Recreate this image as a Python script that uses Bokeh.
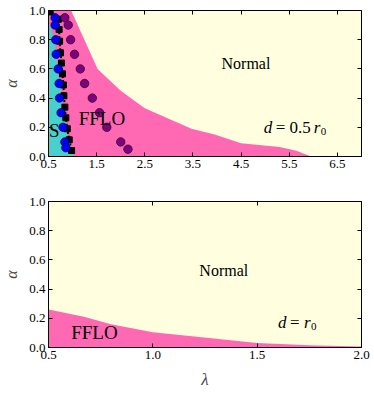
from bokeh.plotting import figure
from bokeh.layouts import column
from bokeh.models import LinearAxis, Label, FixedTicker, Range1d, CustomLabelingPolicy
from bokeh.embed import file_html
from bokeh.resources import INLINE

# ---------------- data ----------------
# top panel: d = 0.5 r0
fflo_edge_lam = [0.5, 0.97, 1.52, 2.0, 2.5, 3.47, 3.95, 4.5, 5.3, 5.65, 5.95]
fflo_edge_alpha = [1.0, 1.0, 0.60, 0.45, 0.33, 0.19, 0.15, 0.09, 0.065, 0.04, 0.0]

s_edge_lam = [0.5, 0.5, 0.62, 0.70, 0.74, 0.84, 0.91, 1.02]
s_edge_alpha = [0.0, 0.93, 0.81, 0.58, 0.49, 0.29, 0.11, 0.0]

sq_lam = [0.535, 0.705, 0.72, 0.73, 0.75, 0.77, 0.79, 0.81, 0.82, 0.84, 0.86, 0.89, 0.93, 0.98]
sq_alpha = [0.99, 0.94, 0.87, 0.79, 0.71, 0.64, 0.566, 0.49, 0.416, 0.338, 0.265, 0.19, 0.114, 0.041]

blue_lam = [0.637, 0.637, 0.65, 0.66, 0.70, 0.72, 0.73, 0.76, 0.80, 0.84, 0.86]
blue_alpha = [0.95, 0.90, 0.80, 0.70, 0.60, 0.50, 0.40, 0.30, 0.20, 0.10, 0.06]

purple_lam = [0.84, 0.91, 0.96, 1.04, 1.16, 1.25, 1.41, 1.56, 1.71, 2.0, 2.15]
purple_alpha = [0.95, 0.90, 0.80, 0.70, 0.60, 0.50, 0.40, 0.30, 0.20, 0.10, 0.05]

top_xticks = [0.5, 1.5, 2.5, 3.5, 4.5, 5.5, 6.5]
top_xlabels = ["0.5", "1.5", "2.5", "3.5", "4.5", "5.5", "6.5"]
yticks = [0.0, 0.2, 0.4, 0.6, 0.8, 1.0]
ylabels = ["0.0", "0.2", "0.4", "0.6", "0.8", "1.0"]

# bottom panel: d = r0
bot_lam = [0.5, 0.67, 0.8, 1.0, 1.2, 1.5, 1.75, 2.0]
bot_alpha = [0.26, 0.21, 0.16, 0.105, 0.075, 0.03, 0.015, 0.007]
bot_xticks = [0.5, 1.0, 1.5, 2.0]
bot_xlabels = ["0.5", "1.0", "1.5", "2.0"]

# ---------------- style ----------------
SERIF = "Liberation Serif"
YELLOW = "#FFFFE0"
PINK = "#FF69B4"
CYAN = "#48D1CC"

HIDE_LABELS = """
try { indices.clear(); return indices; } catch (e) {}
try { const n = indices.size; for (let i = 0; i < n; i++) indices.unset(i); } catch (e) {}
return indices;
"""


def style(p, xticks, xlabels):
    p.background_fill_color = YELLOW
    p.outline_line_color = "black"
    p.outline_line_width = 1
    p.grid.visible = False
    xa = p.below[0]
    ya = p.left[0]
    for ax in (xa, ya):
        ax.major_tick_in = 4
        ax.major_tick_out = 0
        ax.minor_tick_line_color = None
        ax.major_label_text_font = SERIF
        ax.major_label_text_font_size = "13px"
        ax.major_label_text_color = "black"
        ax.axis_line_color = "black"
        ax.major_label_standoff = 3
    xa.ticker = FixedTicker(ticks=xticks)
    xa.major_label_overrides = {float(t): l for t, l in zip(xticks, xlabels)}
    ya.ticker = FixedTicker(ticks=yticks)
    ya.major_label_overrides = {float(t): l for t, l in zip(yticks, ylabels)}
    ya.axis_label = "α"
    ya.axis_label_text_font = SERIF
    ya.axis_label_text_font_style = "italic"
    ya.axis_label_text_font_size = "16px"
    ya.axis_label_standoff = 6
    # mirror axes (ticks only)
    top = LinearAxis(ticker=FixedTicker(ticks=xticks))
    right = LinearAxis(ticker=FixedTicker(ticks=yticks))
    for ax in (top, right):
        ax.major_tick_in = 4
        ax.major_tick_out = 0
        ax.minor_tick_line_color = None
        ax.major_label_text_font_size = "0px"
        ax.major_label_standoff = 0
        ax.axis_line_color = None
        ax.major_label_policy = CustomLabelingPolicy(code=HIDE_LABELS)
    p.add_layout(top, "above")
    p.add_layout(right, "right")


def lbl(p, x, y, text, size="16px", style_="normal", x_offset=0, y_offset=0, align="left"):
    p.add_layout(Label(x=x, y=y, text=text, text_font=SERIF, text_font_size=size,
                       text_font_style=style_, text_align=align, text_baseline="middle",
                       x_offset=x_offset, y_offset=y_offset, text_color="black"))


# ---------------- top panel ----------------
p1 = figure(width=374, height=190, output_backend="svg", toolbar_location=None,
            x_range=Range1d(0.5, 7.0), y_range=Range1d(0.0, 1.0),
            min_border_left=45, min_border_right=13, min_border_top=10, min_border_bottom=34)
style(p1, top_xticks, top_xlabels)

p1.patch(fflo_edge_lam + [0.5], fflo_edge_alpha + [0.0], fill_color=PINK, line_color=None)
p1.patch(s_edge_lam, s_edge_alpha, fill_color=CYAN, line_color=None)
p1.line(sq_lam, sq_alpha, line_color="black", line_width=2, line_dash="2 2")
p1.scatter(sq_lam, sq_alpha, marker="square", size=6, fill_color="black", line_color="black")
p1.scatter(blue_lam, blue_alpha, marker="circle", size=8.5, fill_color="#0000FF", line_color="black", line_width=0.6)
p1.scatter(purple_lam, purple_alpha, marker="circle", size=8.5, fill_color="#800080", line_color="black", line_width=0.6)

lbl(p1, 4.6, 0.64, "Normal", size="16px", align="center")
lbl(p1, 1.61, 0.26, "FFLO", size="19px", align="center")
lbl(p1, 0.62, 0.18, "S", size="19px", align="center")
lbl(p1, 4.97, 0.2, "d", size="17px", style_="italic")
lbl(p1, 4.97, 0.2, "= 0.5", size="17px", x_offset=12)
lbl(p1, 4.97, 0.2, "r", size="17px", style_="italic", x_offset=50)
lbl(p1, 4.97, 0.2, "0", size="11px", x_offset=57, y_offset=-4)

# ---------------- bottom panel ----------------
p2 = figure(width=374, height=204, output_backend="svg", toolbar_location=None,
            x_range=Range1d(0.5, 2.0), y_range=Range1d(0.0, 1.0),
            min_border_left=45, min_border_right=13, min_border_top=11, min_border_bottom=47)
style(p2, bot_xticks, bot_xlabels)
xb = p2.below[0]
xb.axis_label = "λ"
xb.axis_label_text_font = SERIF
xb.axis_label_text_font_style = "italic"
xb.axis_label_text_font_size = "17px"
xb.axis_label_standoff = 8

p2.patch(bot_lam + [2.0, 0.5], bot_alpha + [0.0, 0.0], fill_color=PINK, line_color=None)

lbl(p2, 1.34, 0.53, "Normal", size="16px", align="center")
lbl(p2, 0.72, 0.10, "FFLO", size="19px", align="center")
lbl(p2, 1.60, 0.17, "d", size="17px", style_="italic")
lbl(p2, 1.60, 0.17, "=", size="17px", x_offset=12)
lbl(p2, 1.60, 0.17, "r", size="17px", style_="italic", x_offset=26)
lbl(p2, 1.60, 0.17, "0", size="11px", x_offset=33, y_offset=-4)

layout = column(p1, p2, spacing=0)
open("out.html", "w").write(file_html(layout, INLINE))
